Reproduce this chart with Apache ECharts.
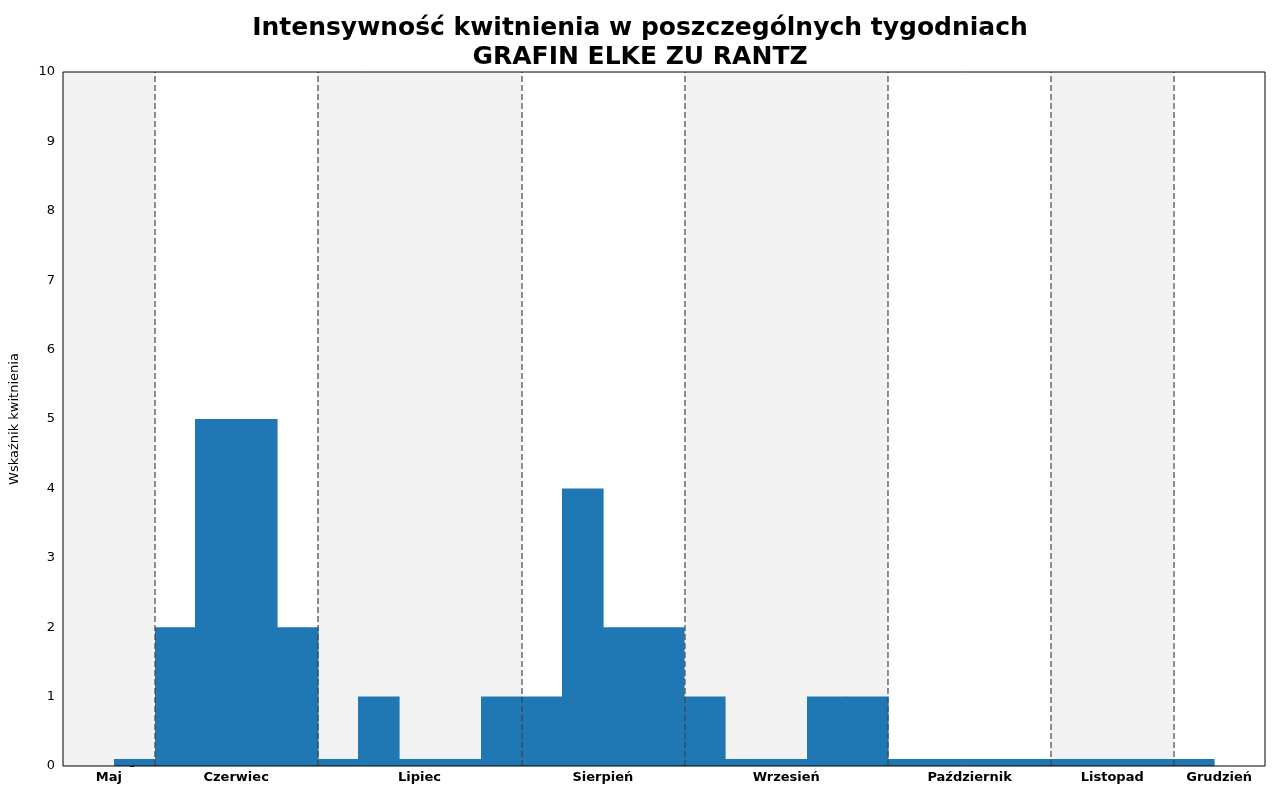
<!DOCTYPE html>
<html><head><meta charset="utf-8">
<script src="https://cdn.jsdelivr.net/npm/echarts@6/dist/echarts.min.js"></script>
<style>html,body{margin:0;padding:0;background:#fff}#c{width:1280px;height:800px}</style>
</head><body><div id="c"></div>
<script>
const values = [0.1, 2,5,5,2, 0.1,1,0.1,0.1,1, 1,4,2,2, 1,0.1,0.1,1,1, 0.1,0.1,0.1,0.1, 0.1,0.1,0.1, 0.1];
const months = ['Maj','Czerwiec','Lipiec','Sierpień','Wrzesień','Październik','Listopad','Grudzień'];
const boundaries = [-1.75, 0.5, 4.5, 9.5, 13.5, 18.5, 22.5, 25.5, 27.75];
const yTicks = [0,1,2,3,4,5,6,7,8,9,10];

const centers = months.map((m,i)=> (boundaries[i]+boundaries[i+1])/2);
const bands = [];
months.forEach((m,i)=>{ if(i%2===0) bands.push([{xAxis:boundaries[i]},{xAxis:boundaries[i+1]}]); });
const lines = boundaries.slice(1,-1).map(b=>({xAxis:b}));

const chart = echarts.init(document.getElementById('c'));
chart.setOption({
  animation:false,
  title:{text:'Intensywność kwitnienia w poszczególnych tygodniach\nGRAFIN ELKE ZU RANTZ',left:'center',top:9,
    textStyle:{fontSize:25,fontWeight:'bold',color:'#000',lineHeight:29,fontFamily:'DejaVu Sans'}},
  grid:{left:62,right:15,top:72,bottom:34,show:true,borderColor:'#000',borderWidth:1,z:10},
  xAxis:[{type:'value',min:-1.75,max:27.75,axisLine:{show:false},axisTick:{show:false},splitLine:{show:false},
    axisLabel:{customValues:centers,formatter:v=>{const i=centers.findIndex(c=>Math.abs(c-v)<1e-6);return i>=0?months[i]:'';},
      fontWeight:'bold',fontSize:13,color:'#000',margin:5,fontFamily:'DejaVu Sans'}}],
  yAxis:{type:'value',min:0,max:10,interval:1,name:'Wskaźnik kwitnienia',nameLocation:'middle',nameGap:42,
    nameTextStyle:{fontSize:13,color:'#000',fontFamily:'DejaVu Sans'},
    axisLine:{show:false},axisTick:{show:true,length:4,lineStyle:{color:'#000'}},splitLine:{show:false},
    axisLabel:{fontSize:13,color:'#000',fontFamily:'DejaVu Sans',formatter:v=>yTicks.includes(v)?String(v):''}},
  series:[
    {type:'line',data:[],z:1,symbol:'none',markArea:{silent:true,itemStyle:{color:'#f2f2f2'},data:bands}},
    {type:'custom',z:2,data:values.map((v,i)=>[i,v]),
      renderItem:(params,api)=>{
        const p1=api.coord([api.value(0)-0.5,api.value(1)]);
        const p2=api.coord([api.value(0)+0.5,0]);
        return {type:'rect',shape:{x:Math.round(p1[0]),y:p1[1],width:Math.round(p2[0])-Math.round(p1[0])+0.6,height:p2[1]-p1[1]},
          style:{fill:'#1f77b4',stroke:null,lineWidth:0}};
      }},
    {type:'line',data:[],z:5,symbol:'none',markLine:{silent:true,symbol:'none',label:{show:false},
      lineStyle:{color:'#444',type:[6,3],width:1.5,opacity:0.8},data:lines}}
  ]
});
</script></body></html>
